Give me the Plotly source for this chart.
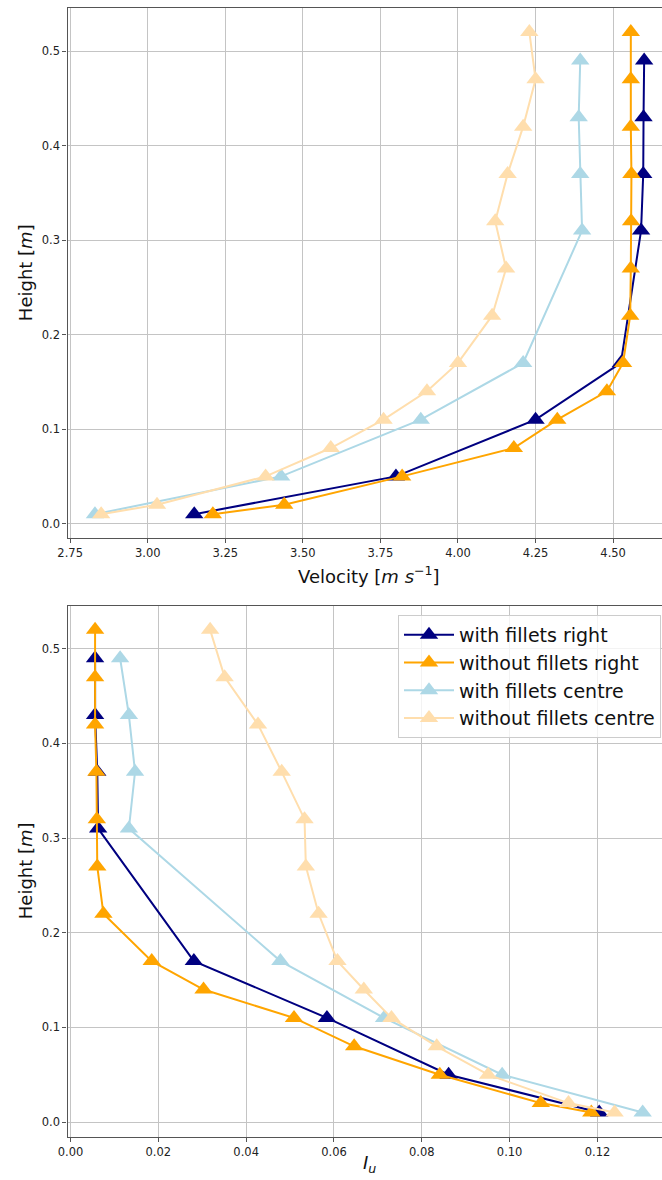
import plotly.graph_objects as go

# ---- data ----
h_right_with = [0.01, 0.05, 0.11, 0.17, 0.31, 0.37, 0.43, 0.49]
h_full = [0.01, 0.02, 0.05, 0.08, 0.11, 0.14, 0.17, 0.22, 0.27, 0.32, 0.37, 0.42, 0.47, 0.52]

vel_with_right = [3.15, 3.80, 4.25, 4.525, 4.59, 4.597, 4.598, 4.60]
vel_without_right = [3.21, 3.44, 3.82, 4.18, 4.32, 4.48, 4.532, 4.555, 4.557, 4.558, 4.559, 4.557, 4.557, 4.557]
vel_with_centre = [2.83, 3.43, 3.88, 4.21, 4.40, 4.394, 4.389, 4.394]
vel_without_centre = [2.85, 3.03, 3.38, 3.59, 3.76, 3.90, 4.00, 4.11, 4.155, 4.12, 4.16, 4.21, 4.25, 4.23]

iu_with_right = [0.1204, 0.0861, 0.0584, 0.0281, 0.0063, 0.0061, 0.0056, 0.0056]
iu_without_right = [0.1186, 0.1071, 0.0841, 0.0646, 0.0509, 0.0303, 0.0185, 0.0075, 0.0061, 0.0060, 0.0059, 0.0056, 0.0056, 0.0056]
iu_with_centre = [0.1303, 0.0983, 0.0714, 0.0478, 0.0133, 0.0147, 0.0133, 0.0113]
iu_without_centre = [0.1239, 0.1134, 0.0951, 0.0834, 0.0731, 0.0668, 0.0608, 0.0565, 0.0536, 0.0533, 0.0481, 0.0427, 0.0351, 0.0318]

names = ["with fillets right", "without fillets right", "with fillets centre", "without fillets centre"]
colors = ["#000080", "#FFA500", "#ADD8E6", "#FFDEAD"]

vel_tick_vals = [2.75, 3.00, 3.25, 3.50, 3.75, 4.00, 4.25, 4.50]
iu_tick_vals = [0.00, 0.02, 0.04, 0.06, 0.08, 0.10, 0.12]
h_tick_vals = [0.0, 0.1, 0.2, 0.3, 0.4, 0.5]

W, H = 662, 1180
FONT = "DejaVu Sans"

fig = go.Figure()

vel_series = [(vel_with_right, h_right_with), (vel_without_right, h_full),
              (vel_with_centre, h_right_with), (vel_without_centre, h_full)]
iu_series = [(iu_with_right, h_right_with), (iu_without_right, h_full),
             (iu_with_centre, h_right_with), (iu_without_centre, h_full)]

mk = dict(symbol="triangle-up", size=16)
for (x, y), name, c in zip(vel_series, names, colors):
    fig.add_trace(go.Scatter(x=x, y=y, mode="lines+markers", name=name,
                             line=dict(color=c, width=2), marker=dict(color=c, **mk),
                             xaxis="x", yaxis="y", showlegend=False))
for (x, y), name, c in zip(iu_series, names, colors):
    fig.add_trace(go.Scatter(x=x, y=y, mode="lines+markers", name=name,
                             line=dict(color=c, width=2), marker=dict(color=c, **mk),
                             xaxis="x2", yaxis="y2", showlegend=True))

# plot area pixel geometry
left_px = 67.5
top1, bot1 = 8, 538.3
top2, bot2 = 605.7, 1136.7

axis_common = dict(showgrid=True, gridcolor="#c4c4c4", gridwidth=1, zeroline=False,
                   showline=True, linecolor="#555555", linewidth=1.3,
                   ticks="outside", ticklen=4, tickcolor="#555555",
                   tickfont=dict(family=FONT, size=11.5, color="#222222"), automargin=False)

fig.update_layout(
    width=W, height=H,
    margin=dict(l=0, r=0, t=0, b=0),
    paper_bgcolor="white", plot_bgcolor="white",
    xaxis=dict(domain=[left_px / W, 1], anchor="y", range=[2.7415, 4.6575],
               tickvals=vel_tick_vals, ticktext=[f"{v:.2f}" for v in vel_tick_vals],
               mirror=True, **axis_common),
    yaxis=dict(domain=[1 - bot1 / H, 1 - top1 / H], anchor="x", range=[-0.0155, 0.5455],
               tickvals=h_tick_vals, ticktext=[f"{v:.1f}" for v in h_tick_vals],
               mirror=False, **axis_common),
    xaxis2=dict(domain=[left_px / W, 1], anchor="y2", range=[-0.00068, 0.1347],
                tickvals=iu_tick_vals, ticktext=[f"{v:.2f}" for v in iu_tick_vals],
                mirror=True, **axis_common),
    yaxis2=dict(domain=[1 - bot2 / H, 1 - top2 / H], anchor="x2", range=[-0.0155, 0.5455],
                tickvals=h_tick_vals, ticktext=[f"{v:.1f}" for v in h_tick_vals],
                mirror=False, **axis_common),
    legend=dict(x=661 / W, y=1 - 615 / H, xanchor="right", yanchor="top",
                bgcolor="rgba(255,255,255,0.8)", bordercolor="#cccccc", borderwidth=1,
                itemwidth=50,
                font=dict(family=FONT, size=19, color="#111111")),
    showlegend=True,
)

title_font = dict(family=FONT, size=18, color="#111111")
annots = [
    dict(text="Height [<i>m</i>]", x=25 / W, y=1 - (top1 + bot1) / 2 / H, textangle=-90),
    dict(text="Height [<i>m</i>]", x=25 / W, y=1 - (top2 + bot2) / 2 / H, textangle=-90),
    dict(text="Velocity [<i>m</i> <i>s</i><sup>−1</sup>]", x=369 / W, y=1 - 575 / H, textangle=0),
    dict(text="<i>I<sub>u</sub></i>", x=369 / W, y=1 - 1164 / H, textangle=0),
]
for a in annots:
    fig.add_annotation(xref="paper", yref="paper", showarrow=False, font=title_font,
                       xanchor="center", yanchor="middle", **a)

fig.write_html("out.html", config={"displayModeBar": False},
               post_script="document.body.style.margin='0';document.body.style.overflow='hidden';")
